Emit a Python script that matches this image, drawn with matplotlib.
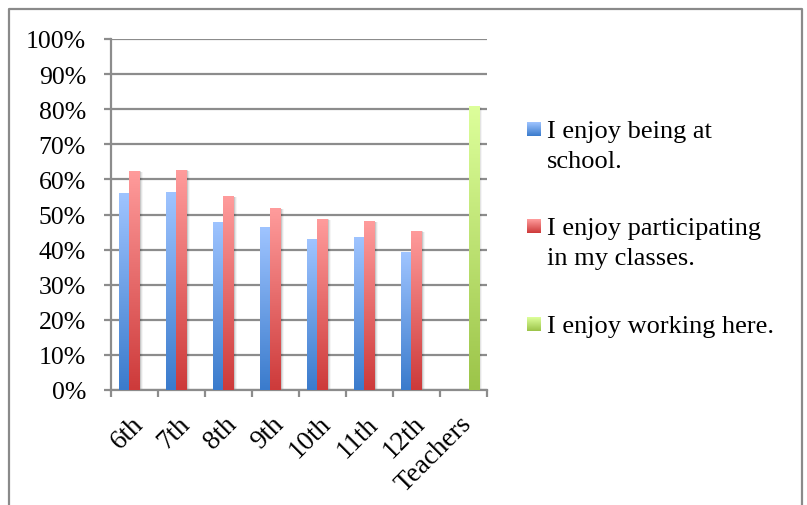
import matplotlib
matplotlib.use("Agg")
import matplotlib.pyplot as plt
import matplotlib.transforms as mtransforms
from matplotlib.colors import LinearSegmentedColormap
from matplotlib.lines import Line2D
from matplotlib.patches import Rectangle
import numpy as np

plt.rcParams["font.family"] = ["Liberation Serif", "DejaVu Serif"]

groups = ["6th", "7th", "8th", "9th", "10th", "11th", "12th", "Teachers"]
enjoy_school = [0.56, 0.563, 0.48, 0.463, 0.429, 0.435, 0.393, np.nan]
enjoy_classes = [0.624, 0.627, 0.552, 0.518, 0.487, 0.481, 0.453, np.nan]
enjoy_working = [np.nan, np.nan, np.nan, np.nan, np.nan, np.nan, np.nan, 0.81]
series_labels = [
    ["I enjoy being at", "school."],
    ["I enjoy participating", "in my classes."],
    ["I enjoy working here."],
]

# (top, bottom) colours of each gradient fill
blue = ("#9fc4ff", "#3a7bcc")
red = ("#ff9c9c", "#cd3a3a")
green = ("#ddff9b", "#9cc449")

W, H = 807, 506
fig = plt.figure(figsize=(W / 100, H / 100), dpi=100)
ax = fig.add_axes([111 / W, 1 - 391 / H, (487 - 111) / W, (391 - 40) / H])

grey = "#8c8c8c"


def gradient_bar(ax, x, h, width, colors):
    if np.isnan(h):
        return
    cmap = LinearSegmentedColormap.from_list("g", [colors[1], colors[0]])
    # soft shadow to the right
    for k, a in [(1.0, 0.12), (2.0, 0.07), (3.0, 0.04)]:
        off = mtransforms.ScaledTranslation(k * 0.72 / 72, -k * 0.3 / 72, fig.dpi_scale_trans)
        ax.add_patch(Rectangle((x - width / 2, 0), width, h, facecolor="black",
                               alpha=a, lw=0, zorder=2, transform=ax.transData + off))
    rect = Rectangle((x - width / 2, 0), width, h, facecolor="none", lw=0, zorder=3)
    ax.add_patch(rect)
    grad = np.linspace(0, 1, 256).reshape(-1, 1)
    im = ax.imshow(grad, cmap=cmap, origin="lower", aspect="auto",
                   extent=[x - width / 2, x + width / 2, 0, h], zorder=3)
    im.set_clip_path(rect)


bw = 0.223
x = np.arange(len(groups))
for vals, off, cols in [(enjoy_school, -bw, blue), (enjoy_classes, 0, red), (enjoy_working, bw, green)]:
    for xi, v in zip(x, vals):
        gradient_bar(ax, xi + off, v, bw, cols)

ax.set_xlim(-0.5, len(groups) - 0.5)
ax.set_ylim(0, 1)

yt = np.linspace(0, 1, 11)
ax.set_yticks(yt)
ax.set_yticklabels([f"{int(round(v * 100))}%" for v in yt], fontsize=18.5)
ax.yaxis.grid(True, color=grey, lw=1.6)
ax.set_axisbelow(True)
ax.tick_params(axis="y", length=5, width=1.6, color=grey, pad=13)

ax.set_xticks(x)
ax.set_xticklabels(groups, fontsize=19.5, rotation=45, ha="right", va="top",
                   rotation_mode="anchor")
ax.set_xticks(np.arange(-0.5, len(groups)), minor=True)
ax.tick_params(axis="x", which="major", length=0, pad=15)
ax.tick_params(axis="x", which="minor", length=5, width=1.6, color=grey)
shift = mtransforms.ScaledTranslation(-4 / 100, 0, fig.dpi_scale_trans)
for lab in ax.get_xticklabels():
    lab.set_transform(lab.get_transform() + shift)

for side in ["top", "right"]:
    ax.spines[side].set_visible(False)
for side in ["left", "bottom"]:
    ax.spines[side].set_color(grey)
    ax.spines[side].set_linewidth(1.6)

# legend drawn by hand so the key sits next to the first line
legend_cols = [blue, red, green]
baselines = [138, 235, 333]
for lines, cols, base in zip(series_labels, legend_cols, baselines):
    lax = fig.add_axes([527 / W, 1 - (base - 1) / H, 14 / W, 14 / H])
    cmap = LinearSegmentedColormap.from_list("g", [cols[1], cols[0]])
    lax.imshow(np.linspace(0, 1, 64).reshape(-1, 1), cmap=cmap, origin="lower",
               aspect="auto")
    lax.axis("off")
    for i, line in enumerate(lines):
        fig.text(547 / W, 1 - (base + 30 * i) / H, line, fontsize=19,
                 va="baseline", ha="left")

# chart area border (bottom edge falls outside the image)
fx = [9 / W, 9 / W, 802 / W, 802 / W]
fy = [-0.05, 1 - 10 / H, 1 - 10 / H, -0.05]
fig.add_artist(Line2D(fx, fy, color="#8a8a8a", lw=1.6, transform=fig.transFigure))

fig.savefig("out.png", dpi=100)
